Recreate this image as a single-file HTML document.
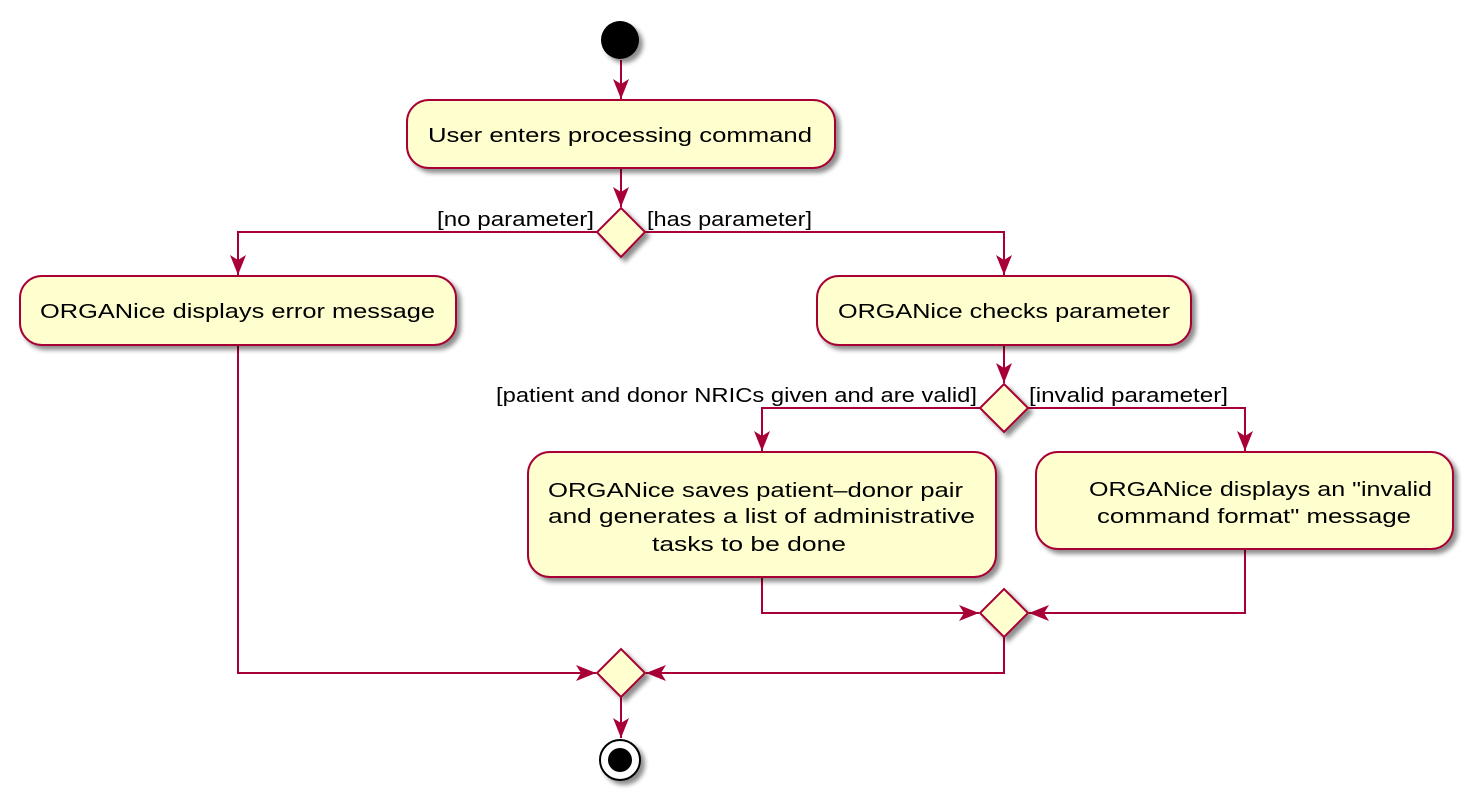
<!DOCTYPE html>
<html><head><style>html,body{margin:0;padding:0;background:#fff}svg{display:block}</style></head>
<body>
<svg width="1474" height="801" viewBox="0 0 1474 801" xmlns="http://www.w3.org/2000/svg" font-family="'Liberation Sans', 'DejaVu Sans', sans-serif" font-size="20">
<defs>
<filter id="sh" x="-20%" y="-20%" width="150%" height="150%">
<feGaussianBlur in="SourceAlpha" stdDeviation="2.5"/>
<feOffset dx="4" dy="4" result="b"/>
<feComponentTransfer><feFuncA type="linear" slope="0.45"/></feComponentTransfer>
<feMerge><feMergeNode/><feMergeNode in="SourceGraphic"/></feMerge>
</filter>
<marker id="ah" viewBox="0 0 20 20" refX="20" refY="10" markerWidth="20" markerHeight="20" markerUnits="userSpaceOnUse" orient="auto">
<path d="M0,2 L20,10 L0,18 L5,10 Z" fill="#A80036"/>
</marker>
</defs>
<g stroke="#A80036" stroke-width="2" fill="none">
<!-- connectors -->
<path d="M621,60 V99" marker-end="url(#ah)"/>
<path d="M621,168 V207" marker-end="url(#ah)"/>
<path d="M597,232 H238 V275" marker-end="url(#ah)"/>
<path d="M645,232 H1004 V275" marker-end="url(#ah)"/>
<path d="M1004,345 V383" marker-end="url(#ah)"/>
<path d="M980,408 H762 V451" marker-end="url(#ah)"/>
<path d="M1028,408 H1245 V451" marker-end="url(#ah)"/>
<path d="M762,577 V613 H979" marker-end="url(#ah)"/>
<path d="M1245,549 V613 H1029" marker-end="url(#ah)"/>
<path d="M238,345 V673 H596" marker-end="url(#ah)"/>
<path d="M1004,637 V673 H646" marker-end="url(#ah)"/>
<path d="M621,697 V738" marker-end="url(#ah)"/>
</g>
<g fill="#FEFECE" stroke="#A80036" stroke-width="2" filter="url(#sh)">
<rect x="407" y="100" width="428" height="68" rx="22"/>
<polygon points="621,208 645,232 621,257 597,232"/>
<rect x="20" y="276" width="436" height="69" rx="22"/>
<rect x="817" y="276" width="374" height="69" rx="22"/>
<polygon points="1004,384 1028,408 1004,432 980,408"/>
<rect x="528" y="452" width="468" height="125" rx="22"/>
<rect x="1036" y="452" width="417" height="97" rx="22"/>
<polygon points="1004,589 1028,613 1004,637 980,613"/>
<polygon points="621,649 645,673 621,697 597,673"/>
</g>
<circle cx="620" cy="40" r="19" fill="#000" filter="url(#sh)"/>
<circle cx="620" cy="760" r="20" fill="#fff" stroke="#000" stroke-width="2" filter="url(#sh)"/>
<circle cx="620" cy="760" r="12" fill="#000"/>
<g fill="#000">
<text x="428" y="142" textLength="384" lengthAdjust="spacingAndGlyphs">User enters processing command</text>
<text x="40" y="318" textLength="395" lengthAdjust="spacingAndGlyphs">ORGANice displays error message</text>
<text x="838" y="318" textLength="332" lengthAdjust="spacingAndGlyphs">ORGANice checks parameter</text>
<text x="548" y="497" textLength="415" lengthAdjust="spacingAndGlyphs">ORGANice saves patient–donor pair</text>
<text x="548" y="523" textLength="427" lengthAdjust="spacingAndGlyphs">and generates a list of administrative</text>
<text x="652" y="551" textLength="194" lengthAdjust="spacingAndGlyphs">tasks to be done</text>
<text x="1089" y="496" textLength="343" lengthAdjust="spacingAndGlyphs">ORGANice displays an "invalid</text>
<text x="1097" y="523" textLength="314" lengthAdjust="spacingAndGlyphs">command format" message</text>
<text x="437" y="226" textLength="157" lengthAdjust="spacingAndGlyphs">[no parameter]</text>
<text x="647" y="226" textLength="165" lengthAdjust="spacingAndGlyphs">[has parameter]</text>
<text x="496" y="402" textLength="481" lengthAdjust="spacingAndGlyphs">[patient and donor NRICs given and are valid]</text>
<text x="1029" y="402" textLength="199" lengthAdjust="spacingAndGlyphs">[invalid parameter]</text>
</g>
</svg>
</body></html>
